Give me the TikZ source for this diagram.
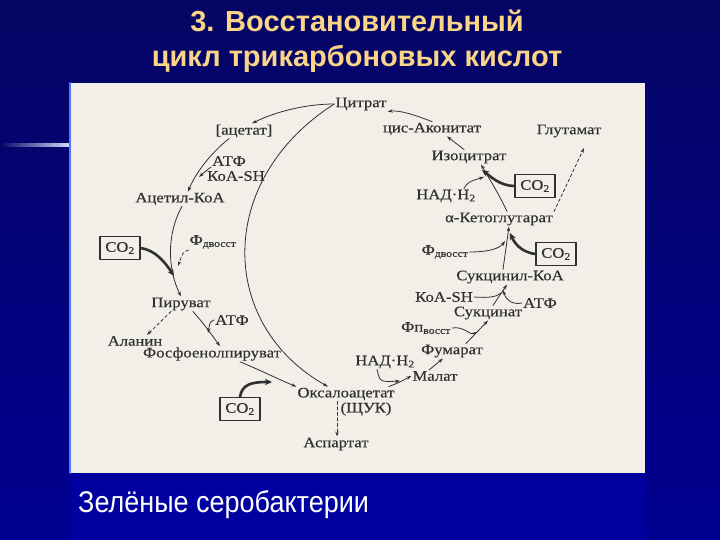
\documentclass[tikz,border=0pt]{standalone}
\usepackage{fontspec}
\setmainfont{Liberation Serif}
\newfontfamily\scanfont[FakeStretch=1.15,FakeBold=0.3]{Liberation Serif}
\newfontfamily\slidefont{Liberation Sans}
\newfontfamily\slidenarrow[FakeStretch=0.9]{Liberation Sans}
\usetikzlibrary{arrows.meta,calc}
\definecolor{slidetop}{RGB}{5,5,100}
\definecolor{slidebot}{RGB}{0,0,145}
\definecolor{slideinner}{RGB}{0,0,160}
\definecolor{paper}{RGB}{241,239,232}
\definecolor{ink}{RGB}{48,48,48}
\definecolor{titlegold}{RGB}{250,212,135}
\definecolor{edgeblue}{RGB}{80,120,255}

\begin{document}
\begin{tikzpicture}[x=1pt, y=-1pt, line join=round, line cap=round,
    lbl/.style={inner sep=1pt, text=ink, font=\scanfont\fontsize{14.5}{16}\selectfont},
    cobox/.style={lbl, draw=ink, line width=1.1pt, minimum width=40pt, minimum height=23pt},
    flow/.style={draw=ink, line width=0.8pt, -{Stealth[length=5pt,width=3.4pt]}},
    dflow/.style={flow, dash pattern=on 3pt off 2.5pt},
    fat/.style={draw=ink, line width=2.6pt, -{Stealth[length=7pt,width=6.5pt]}}]
    \useasboundingbox (0,0) rectangle (720,540);

    % Фон слайда и вставка со схемой
    \shade[top color=slidetop, bottom color=slidebot] (0,0) rectangle (720,540);
    \fill[slideinner] (70,473) rectangle (645,540);
    \shade[left color=slidetop, right color=white!75!edgeblue] (0,144) rectangle (70,146.5);
    \fill[paper] (70,83) rectangle (645,473);
    \draw[edgeblue, line width=2pt] (70,83) -- (70,473);

    % Заголовок и подпись
    \node[font=\slidefont\bfseries\fontsize{29}{35}\selectfont, text=titlegold, anchor=base] (title1) at (357,32) {3. Восстановительный};
    \node[font=\slidefont\bfseries\fontsize{29}{35}\selectfont, text=titlegold, anchor=base] (title2) at (357,67) {цикл трикарбоновых кислот};
    \node[font=\slidenarrow\fontsize{30}{36}\selectfont, text=white, anchor=base west, inner sep=0pt] (caption) at (78,512) {Зелёные серобактерии};

    % Метаболиты
    \node[lbl] (cit)    at (361,104) {Цитрат};
    \node[lbl] (acet)   at (244,131) {[ацетат]};
    \node[lbl] (atp1)   at (229,161) {АТФ};
    \node[lbl] (koa1)   at (236,176) {КоА-SH};
    \node[lbl] (acoa)   at (180,199) {Ацетил-КоА};
    \node[lbl] (fd1)    at (213,242) {Ф\textsubscript{двосст}};
    \node[lbl] (pyr)    at (181,304) {Пируват};
    \node[lbl] (atp2)   at (232,320) {АТФ};
    \node[lbl] (ala)    at (135,341) {Аланин};
    \node[lbl] (pep)    at (212,354) {Фосфоенолпируват};
    \node[lbl] (oaa)    at (346,394) {Оксалоацетат};
    \node[lbl] (shchuk) at (366,409) {(ЩУК)};
    \node[lbl] (asp)    at (336,444) {Аспартат};
    \node[lbl] (acon)   at (432,129) {цис-Аконитат};
    \node[lbl] (glu)    at (569,131) {Глутамат};
    \node[lbl] (iso)    at (469,157) {Изоцитрат};
    \node[lbl] (nad1)   at (446,196) {НАД·Н\textsubscript{2}};
    \node[lbl] (akg)    at (499,219) {α-Кетоглутарат};
    \node[lbl] (fd2)    at (445,252) {Ф\textsubscript{двосст}};
    \node[lbl] (sca)    at (510,277) {Сукцинил-КоА};
    \node[lbl] (koa2)   at (444,297) {КоА-SH};
    \node[lbl] (atp3)   at (540,303) {АТФ};
    \node[lbl] (succ)   at (488,313) {Сукцинат};
    \node[lbl] (fp)     at (426,328) {Фп\textsubscript{восст}};
    \node[lbl] (fum)    at (452,351) {Фумарат};
    \node[lbl] (nad2)   at (385,362) {НАД·Н\textsubscript{2}};
    \node[lbl] (mal)    at (435,376) {Малат};

    % CO2 в рамках
    \node[cobox] (co2a) at (120,248) {CO\textsubscript{2}};
    \node[cobox] (co2b) at (240,409) {CO\textsubscript{2}};
    \node[cobox] (co2c) at (535,186) {CO\textsubscript{2}};
    \node[cobox] (co2d) at (556,254) {CO\textsubscript{2}};

    % Точки слияния боковых стрелок
    \coordinate (j1)    at (199,177);
    \coordinate (jco2a) at (174,276);
    \coordinate (jfd1)  at (178,266);
    \coordinate (j3)    at (208,333);
    \coordinate (j4)    at (272,382);
    \coordinate (j5)    at (400,381);
    \coordinate (j6)    at (477,332);
    \coordinate (j7)    at (501,293);
    \coordinate (j7b)   at (503,290);
    \coordinate (j8a)   at (505,241);
    \coordinate (j8b)   at (510,233);
    \coordinate (j9a)   at (484,177);
    \coordinate (j9b)   at (482,170);
    \coordinate (jglu)  at (584,148);

    % Левая часть цикла
    \draw[flow] (cit.west) .. controls (305,104) and (275,112) .. ([xshift=8pt]acet.north);
    \draw[flow] (cit.west) .. controls (215,180) and (218,325) .. ([xshift=-18pt]oaa.north);
    \draw[flow] ([xshift=-15pt]acet.south) .. controls (212,152) and (196,172) .. ([xshift=8pt]acoa.north);
    \draw[flow] (atp1.south west) .. controls (207,170) .. (j1);
    \draw[flow] ([xshift=2pt]acoa.south) .. controls (166,235) and (168,270) .. (pyr.north);
    \draw[fat] (co2a.east) .. controls (155,250) and (165,262) .. (jco2a);
    \draw[dflow] (fd1.south west) .. controls (183,252) .. (jfd1);
    \draw[flow] ([xshift=12pt]pyr.south) .. controls (205,325) and (214,338) .. ([xshift=8pt]pep.north);
    \draw[flow] (atp2.west) .. controls (210,322) .. (j3);
    \draw[dflow] ([xshift=-10pt]pyr.south) -- ([xshift=12pt]ala.north);
    \draw[flow] ([xshift=28pt]pep.south) .. controls (260,370) and (280,380) .. (oaa.north west);
    \draw[fat] (co2b.north) .. controls (242,384) and (252,382) .. (j4);
    \draw[dflow] ([xshift=-9pt]oaa.south) -- ([xshift=1pt]asp.north);

    % Правая часть цикла
    \draw[flow] ([xshift=-7pt]oaa.north east) .. controls (398,383) .. (mal.west);
    \draw[flow] ([xshift=-8pt]nad2.south) .. controls (380,382) .. (j5);
    \draw[flow] ([xshift=-6pt]mal.north) -- ([xshift=-9pt]fum.south);
    \draw[flow] ([xshift=14pt]fum.north) -- (succ.south);
    \draw[flow] (fp.east) .. controls (465,326) and (470,336) .. (j6);
    \draw[flow] ([xshift=5pt]succ.north) -- ([xshift=-3pt]sca.south);
    \draw[draw=ink, line width=0.8pt] (koa2.east) .. controls (490,298) and (496,297) .. (j7);
    \draw[flow] (atp3.west) .. controls (512,305) and (506,300) .. (j7b);
    \draw[flow] ([xshift=-7pt]sca.north) -- ([xshift=10pt]akg.south);
    \draw[flow] (fd2.east) .. controls (490,252) and (500,248) .. (j8a);
    \draw[fat] (co2d.west) .. controls (520,252) and (514,242) .. (j8b);
    \draw[flow] ([xshift=8pt]akg.north) .. controls (500,196) and (490,180) .. ([xshift=12pt]iso.south);
    \draw[flow] ([xshift=18pt]nad1.north) .. controls (468,182) .. (j9a);
    \draw[fat] (co2c.west) .. controls (500,186) and (490,176) .. (j9b);
    \draw[flow] ([xshift=-5pt]iso.north) -- ([xshift=15pt]acon.south);
    \draw[flow] (acon.north) .. controls (415,115) and (400,110) .. (cit.south east);
    \draw[dflow] (akg.north east) -- (jglu);
\end{tikzpicture}
\end{document}
